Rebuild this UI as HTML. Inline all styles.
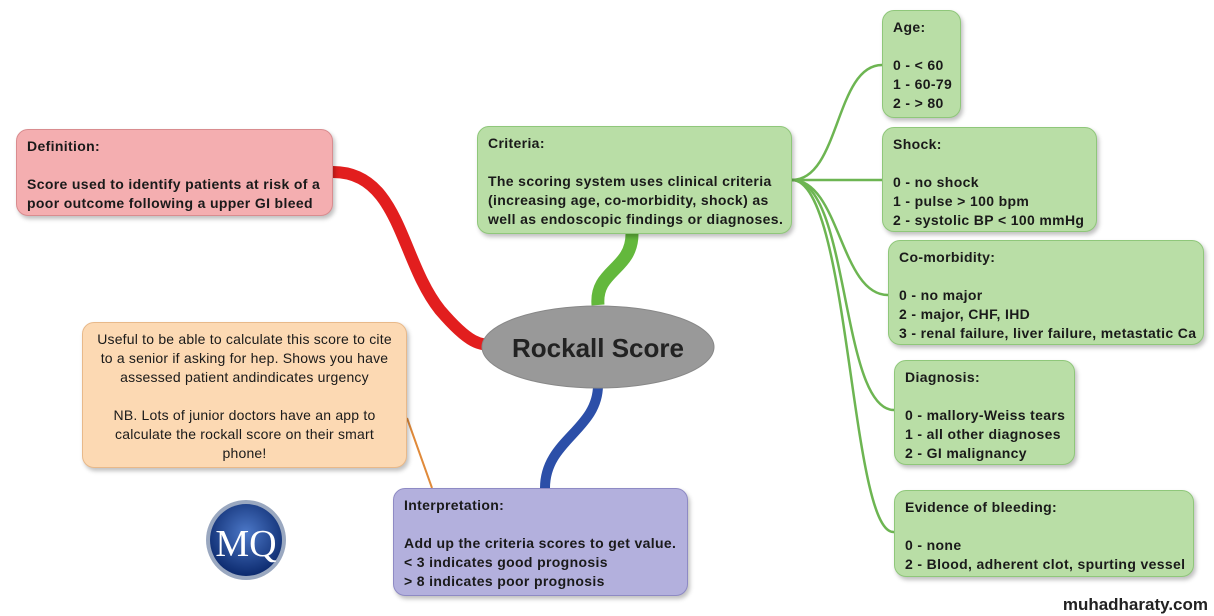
<!DOCTYPE html>
<html><head><style>
body{margin:0;width:1214px;height:616px;background:#fff;position:relative;overflow:hidden;font-family:"Liberation Sans",Arial,sans-serif}
.b{position:absolute;border-radius:12px;box-sizing:border-box;padding:7px 10px;font-size:14px;font-weight:bold;line-height:19px;color:#1a1a1a;box-shadow:2px 3px 4px rgba(0,0,0,.25);white-space:nowrap;letter-spacing:0.35px}
.g{background:#b9dea6;border:1.5px solid #8fc77a}
</style></head><body>
<svg width="1214" height="616" style="position:absolute;left:0;top:0">
<g fill="none" stroke="#6db552" stroke-width="2.5">
<path d="M792,180 C840,180 835,65 882,65"/>
<path d="M792,180 L882,180"/>
<path d="M792,180 C840,180 840,295 888,295"/>
<path d="M792,180 C850,180 840,410 894,410"/>
<path d="M792,180 C850,180 850,535 894,532"/>
</g>
<path d="M333,172 C400,172 400,260 440,310 C470,345 480,345 495,345" fill="none" stroke="#e21e1e" stroke-width="12"/>
<path d="M632,234 C632,270 595,270 598,305" fill="none" stroke="#63b83c" stroke-width="13"/>
<path d="M598,385 C598,430 545,440 545,488" fill="none" stroke="#2c4fa8" stroke-width="10"/>
<path d="M407,418 L432,488" fill="none" stroke="#e08a3a" stroke-width="2"/>
<ellipse cx="598" cy="347" rx="116" ry="41" fill="#999" stroke="#888" stroke-width="1"/>
<text x="598" y="357" text-anchor="middle" font-family="Liberation Sans,Arial,sans-serif" font-size="26" font-weight="bold" fill="#222">Rockall Score</text>
<defs><radialGradient id="lg" cx="50%" cy="40%" r="60%"><stop offset="0" stop-color="#4c78c8"/><stop offset="1" stop-color="#0c2a6e"/></radialGradient></defs>
<circle cx="246" cy="540" r="40" fill="#9aa8c0"/>
<circle cx="246" cy="540" r="36" fill="url(#lg)"/>
<text x="246" y="556" text-anchor="middle" font-family="Liberation Serif,serif" font-size="38" fill="#fff">MQ</text>
<text x="1208" y="610" text-anchor="end" font-family="Liberation Sans,Arial,sans-serif" font-size="17" fill="#222" font-weight="bold">muhadharaty.com</text>
</svg>
<div class="b" style="left:16px;top:129px;width:317px;height:87px;background:#f4aeb0;border:1.5px solid #d98c8f">Definition:<br><br>Score used to identify patients at risk of a<br>poor outcome following a upper GI bleed</div>
<div class="b g" style="left:477px;top:126px;width:315px;height:108px">Criteria:<br><br>The scoring system uses clinical criteria<br>(increasing age, co-morbidity, shock) as<br>well as endoscopic findings or diagnoses.</div>
<div class="b g" style="left:882px;top:10px;width:79px;height:108px">Age:<br><br>0 - &lt; 60<br>1 - 60-79<br>2 - &gt; 80</div>
<div class="b g" style="left:882px;top:127px;width:215px;height:105px">Shock:<br><br>0 - no shock<br>1 - pulse &gt; 100 bpm<br>2 - systolic BP &lt; 100 mmHg</div>
<div class="b g" style="left:888px;top:240px;width:316px;height:105px">Co-morbidity:<br><br>0 - no major<br>2 - major, CHF, IHD<br>3 - renal failure, liver failure, metastatic Ca</div>
<div class="b g" style="left:894px;top:360px;width:181px;height:105px">Diagnosis:<br><br>0 - mallory-Weiss tears<br>1 - all other diagnoses<br>2 - GI malignancy</div>
<div class="b g" style="left:894px;top:490px;width:300px;height:87px">Evidence of bleeding:<br><br>0 - none<br>2 - Blood, adherent clot, spurting vessel</div>
<div class="b" style="left:82px;top:322px;width:325px;height:146px;background:#fcd9b3;border:1.5px solid #e8b98a;font-weight:normal;text-align:center;letter-spacing:0.2px">Useful to be able to calculate this score to cite<br>to a senior if asking for hep. Shows you have<br>assessed patient andindicates urgency<br><br>NB. Lots of junior doctors have an app to<br>calculate the rockall score on their smart<br>phone!</div>
<div class="b" style="left:393px;top:488px;width:295px;height:108px;background:#b3b0dd;border:1.5px solid #8e8ac4">Interpretation:<br><br>Add up the criteria scores to get value.<br>&lt; 3 indicates good prognosis<br>&gt; 8 indicates poor prognosis</div>
</body></html>
